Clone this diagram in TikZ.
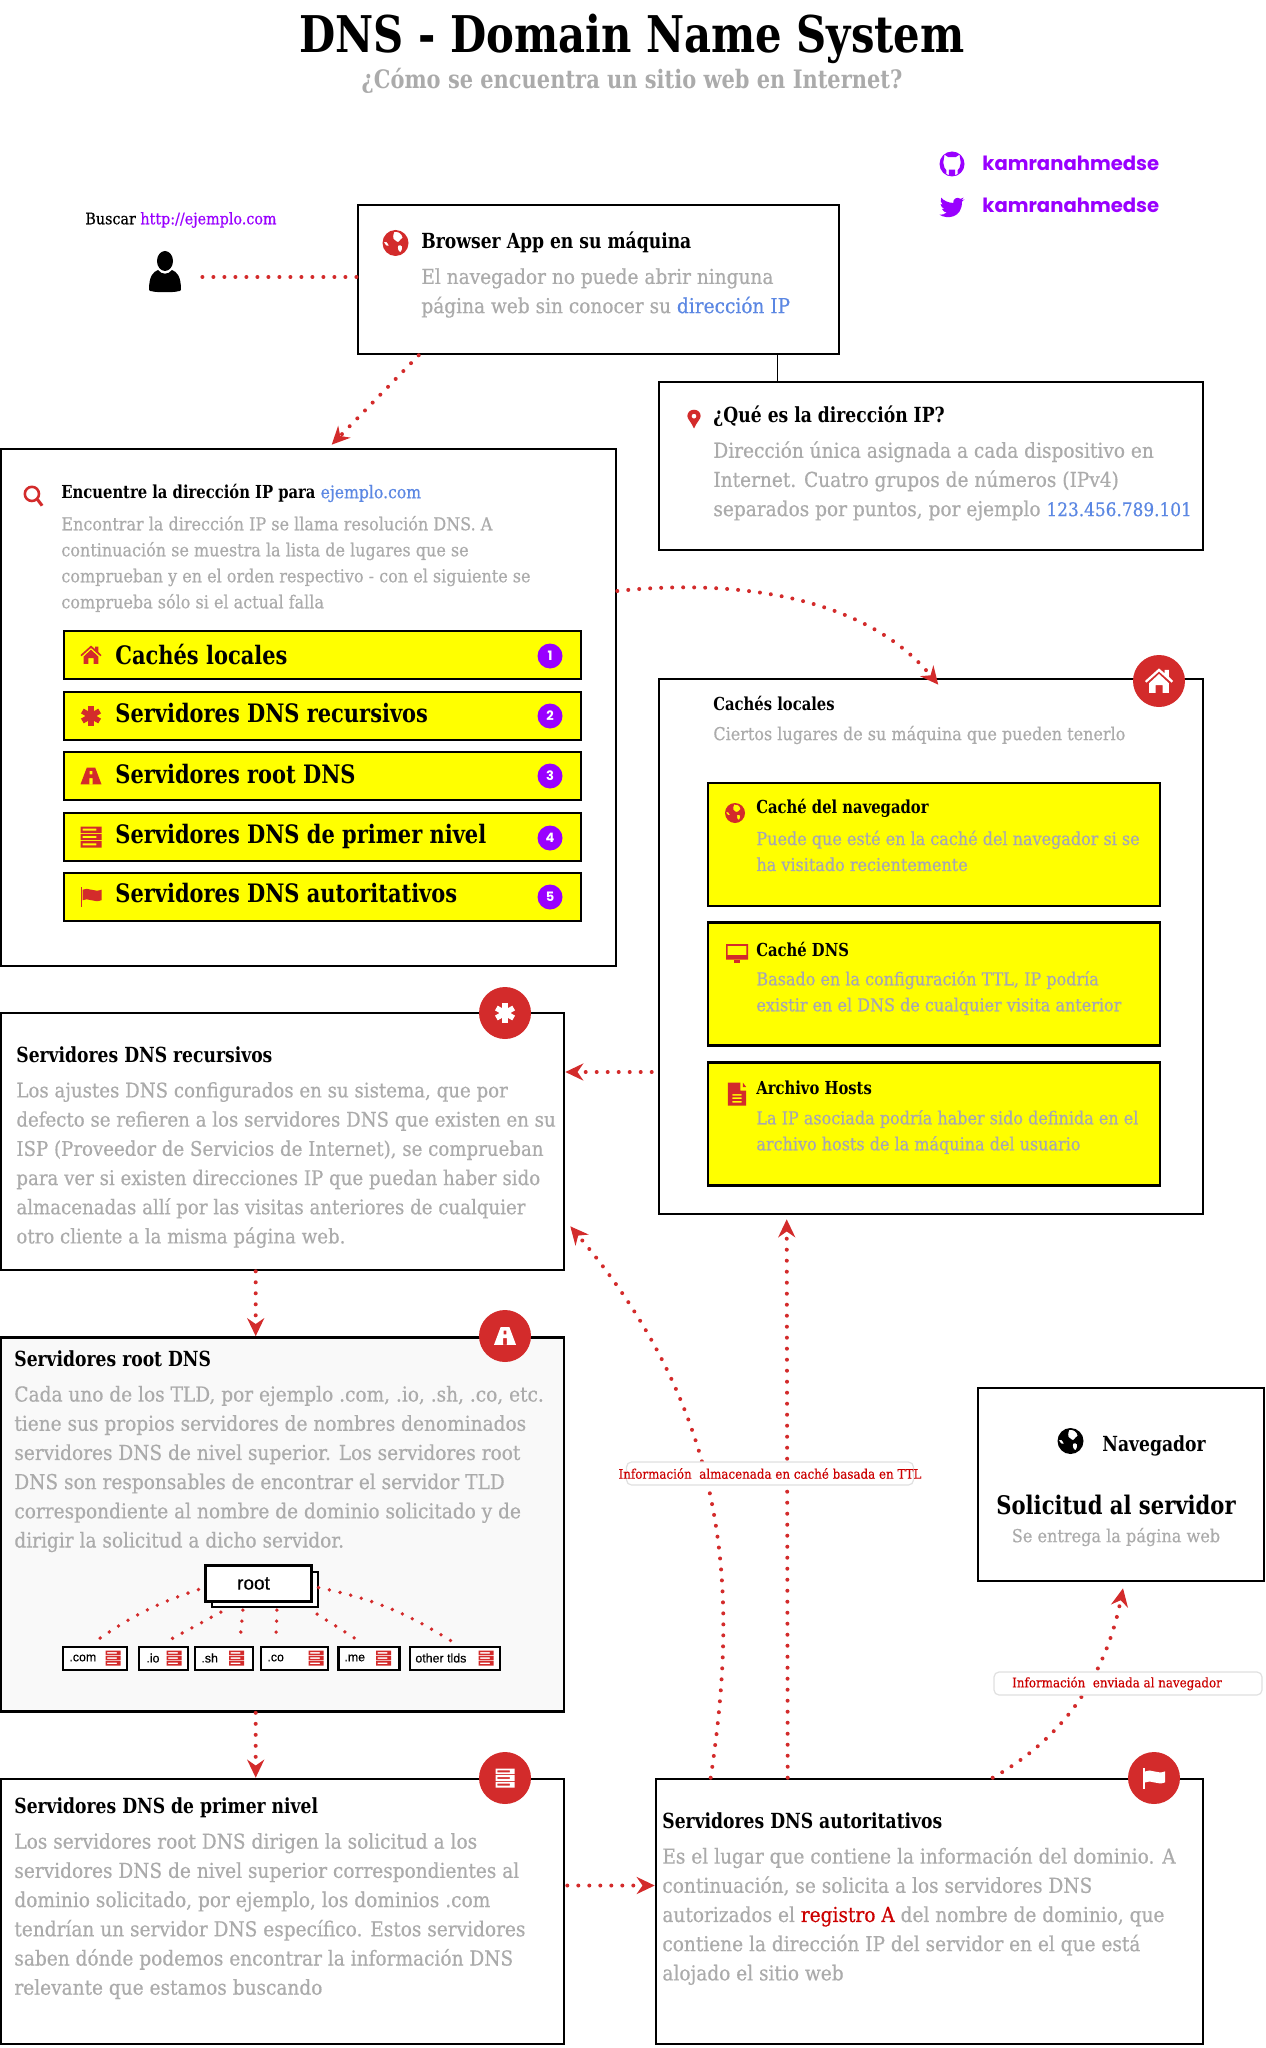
\documentclass[tikz,border=0pt]{standalone}
\usepackage{fontspec}
\usepackage{tikz}
\usetikzlibrary{arrows.meta}
\setmainfont{DejaVu Serif}[FakeStretch=0.9,FakeBold=0.45]
\newfontfamily\headfontbase{DejaVu Serif}[BoldFeatures={FakeStretch=0.825}]
\newcommand{\headfont}{\headfontbase\bfseries}
\newfontfamily\sansfont{Poppins}
\newfontfamily\sketchfont{Liberation Sans}[FakeBold=0.4]
\definecolor{iconred}{HTML}{D32B2B}
\definecolor{bodygray}{HTML}{ABABAB}
\definecolor{yellowgray}{HTML}{A6A6B4}
\definecolor{linkblue}{HTML}{5B87E3}
\definecolor{brandpurple}{HTML}{9900FF}
\definecolor{markyellow}{HTML}{FFFF00}
\definecolor{softpanel}{HTML}{F9F9F9}
\newcommand{\fs}[2]{\fontsize{#1}{#2}\selectfont}
\tikzset{
  pics/iconhome/.style={code={
    \fill (-10,0)--(0,-9)--(4,-5.5)--(4,-8)--(7,-8)--(7,-3)--(10,0)--(9,1.2)--(0,-6.8)--(-9,1.2)--cycle;
    \fill (-7,1.5)--(0,-5)--(7,1.5)--(7,8.5)--(2.5,8.5)--(2.5,3)--(-2.5,3)--(-2.5,8.5)--(-7,8.5)--cycle;}},
  pics/iconstar/.style={code={
    \fill[rotate=90] (-9.5,-2.6) rectangle (9.5,2.6);
    \fill[rotate=30] (-9.5,-2.6) rectangle (9.5,2.6);
    \fill[rotate=150] (-9.5,-2.6) rectangle (9.5,2.6);}},
  pics/iconroad/.style={code={
    \fill[even odd rule] (-4,-8)--(4,-8)--(10,8)--(-10,8)--cycle (-1.3,-5) rectangle (1.3,-1.5) (-1.6,2) rectangle (1.6,8);}},
  pics/iconservers/.style={code={
    \fill[even odd rule] (-10,-10) rectangle (10,-4) (-8,-8) rectangle (5,-6);
    \fill[even odd rule] (-10,-3) rectangle (10,3) (-8,-1) rectangle (5,1);
    \fill[even odd rule] (-10,4) rectangle (10,10) (-8,6) rectangle (5,8);}},
  pics/iconflag/.style={code={
    \fill (-10,-9) rectangle (-8.6,10);
    \fill (-8,-6) .. controls (-3,-9) and (3,-3) .. (10,-6) -- (10,4) .. controls (3,7) and (-3,1) .. (-8,4) -- cycle;}},
  pics/iconglobe/.style={code={
    \fill[even odd rule] (0,0) circle (10) (-1,-8.5) .. controls (2,-9) and (5,-7.5) .. (5.5,-4) .. controls (3,-2.5) and (3,0) .. (1,-1) .. controls (-1,-2) and (-3,-3) .. (-1,-8.5) -- cycle (2,2) .. controls (5,1) and (6.5,3) .. (4,7) .. controls (2.5,7) and (1,4) .. (2,2) -- cycle (-9,-1) .. controls (-7,-2) and (-6,0) .. (-5,2) .. controls (-6,3) and (-8,2) .. (-9,-1) -- cycle;}},
  pics/iconmonitor/.style={code={
    \fill[even odd rule] (-10,-8) rectangle (10,6) (-8.5,-6.5) rectangle (8.5,2);
    \fill (-3,6) rectangle (3,9);}},
  pics/iconfile/.style={code={
    \fill[even odd rule] (-8,-10)--(3,-10)--(3,-3)--(8,-3)--(8,10)--(-8,10)--cycle (-4,0) rectangle (4,1.5) (-4,3) rectangle (4,4.5) (-4,6) rectangle (4,7.5);
    \fill (5,-10)--(8,-6)--(5,-6)--cycle;}},
  pics/iconsearch/.style={code={
    \fill[even odd rule] (-2,-2) circle (8) (-2,-2) circle (5.5);
    \fill (2,4)--(4.5,2.5)--(9,8.5)--(6.5,10)--cycle;}},
  pics/iconpin/.style={code={
    \fill[even odd rule] (0,10) .. controls (-3,3) and (-7,0) .. (-7,-3) .. controls (-7,-12) and (7,-12) .. (7,-3) .. controls (7,0) and (3,3) .. (0,10) -- cycle (0,-3) circle (2.6);}},
  pics/iconperson/.style={code={
    \fill (0,-11) ellipse (8 and 10);
    \fill (-16,18) .. controls (-16,4) and (-12,0) .. (-7,-2) .. controls (-3,3) and (3,3) .. (7,-2) .. controls (12,0) and (16,4) .. (16,18) .. controls (16,21) and (-16,21) .. (-16,18) -- cycle;}},
  pics/icongithub/.style={code={
    \fill[even odd rule] (0,0) circle (10) (-6,-7.5)--(-3,-5.5)--(3,-5.5)--(6,-7.5)--(7,-1)--(6,3)--(4.5,5)--(4.5,8)--(2.5,9)--(2.5,4.5)--(-2.5,4.5)--(-2.5,9)--(-4.5,8)--(-4.5,5)--(-6,3)--(-7,-1)--cycle;}},
  pics/icontwitter/.style={code={
    \fill (10,-6.1) .. controls (9,-5.6) and (8.3,-5.4) .. (7.6,-5.3) .. controls (8.4,-5.8) and (9,-6.6) .. (9.3,-7.5) .. controls (8.5,-7) and (7.7,-6.7) .. (6.7,-6.5) .. controls (4.6,-8.6) and (0.4,-6.6) .. (1,-3.2) .. controls (-3,-3.4) and (-6.5,-5) .. (-8.6,-7.4) .. controls (-9.6,-5.5) and (-9,-3.2) .. (-7.4,-1.9) -- (-9.2,-2.4) .. controls (-9,-0.4) and (-7.8,0.8) .. (-6,1.5) -- (-8,1.6) .. controls (-7.2,3.4) and (-5.6,4.4) .. (-4.2,4.4) .. controls (-5.8,5.8) and (-8,6.4) .. (-10,6.2) .. controls (-4,10) and (8.2,9) .. (8,-4.4) .. controls (8.8,-5) and (9.5,-5.5) .. (10,-6.1) -- cycle;}}
}
\begin{document}
\begin{tikzpicture}[x=0.5pt,y=-0.5pt]
    \tikzstyle{every node} = [inner sep=0pt]
    \tikzstyle{panel} = [draw, line width=1.3pt, rectangle, fill=white]
    \tikzstyle{bar} = [draw, line width=1.2pt, rectangle, fill=markyellow, minimum width=258.5pt, minimum height=24pt]
    \tikzstyle{cachebox} = [draw, line width=1.2pt, rectangle, fill=markyellow, minimum width=226pt, minimum height=61.5pt]
    \tikzstyle{badge} = [circle, fill=brandpurple, text=white, minimum size=12.5pt, font=\sansfont\bfseries\fs{6.5}{7}]
    \tikzstyle{disc} = [circle, fill=iconred, minimum size=26pt]
    \tikzstyle{head} = [anchor=west, font=\headfont\fs{10.4}{12}]
    \tikzstyle{smallhead} = [anchor=west, font=\headfont\fs{8.95}{11}]
    \tikzstyle{bigbody} = [anchor=west, align=left, text=bodygray, font=\fs{10.3}{14.6}]
    \tikzstyle{smallbody} = [anchor=west, align=left, text=bodygray, font=\fs{8.9}{13}]
    \tikzstyle{yellowbody} = [smallbody, text=yellowgray]
    \tikzstyle{bartext} = [anchor=west, font=\headfont\fs{12.7}{14}]
    \tikzstyle{social} = [anchor=west, text=brandpurple, font=\sansfont\bfseries\fs{9.8}{12}]
    \tikzstyle{flowlabel} = [rectangle, rounded corners=2.5pt, draw=black!12, line width=.6pt, fill=white, text=red!80!black, font=\fs{6.6}{8}]
    \tikzstyle{tldbox} = [draw, line width=1.1pt, rectangle, fill=white, minimum height=11.5pt]
    \tikzstyle{tldtext} = [anchor=west, font=\sketchfont\fs{6.2}{7}]
    \tikzstyle{flow} = [draw=iconred, line width=2pt, line cap=round, dash pattern=on 0pt off 5.5pt, -{Stealth[length=9pt,width=8.5pt]}]
    \tikzstyle{flowplain} = [draw=iconred, line width=2pt, line cap=round, dash pattern=on 0pt off 5.5pt]
    \tikzstyle{tlddots} = [draw=iconred, line width=1.9pt, line cap=round, dash pattern=on 0pt off 5.5pt]
    \useasboundingbox (0,0) rectangle (1265,2048);
    % title
    \node (title) at (632,39) {\headfont\fs{25.3}{30}DNS - Domain Name System};
    \node[text=bodygray] (subtitle) at (632,81) {\headfont\fs{12.7}{14}¿Cómo se encuentra un sitio web en Internet?};
    \pic[color=brandpurple,scale=1.25] at (952,164) {icongithub};
    \node[social] (githubName) at (982,163) {kamranahmedse};
    \pic[color=brandpurple,scale=1.25] at (952,207) {icontwitter};
    \node[social] (twitterName) at (982,205) {kamranahmedse};
    % user
    \node[anchor=west,font=\fs{7.95}{9}] (search) at (85,220) {Buscar \textcolor{brandpurple}{http://ejemplo.com}};
    \node[minimum width=37pt,minimum height=20pt] (user) at (165,277) {};
    \pic[color=black] at (165,272) {iconperson};
    % browser and address
    \node[panel,minimum width=240.5pt,minimum height=74.5pt] (browser) at (598.5,279.5) {};
    \pic[color=iconred,scale=1.3] at (395.5,243) {iconglobe};
    \node[head] (browserHead) at (421,242.5) {Browser App en su máquina};
    \node[bigbody] (browserBody) at (421,293) {El navegador no puede abrir ninguna\\página web sin conocer su \textcolor{linkblue}{dirección IP}};
    \node[panel,minimum width=272pt,minimum height=84pt] (address) at (931,466) {};
    \pic[color=iconred,scale=.95] at (694,419) {iconpin};
    \node[head] (addressHead) at (713,416) {¿Qué es la dirección IP?};
    \node[bigbody] (addressBody) at (713,481) {Dirección única asignada a cada dispositivo en\\Internet. Cuatro grupos de números (IPv4)\\separados por puntos, por ejemplo \textcolor{linkblue}{\fs{9.4}{14.6}123.456.789.101}};
    % find the address
    \node[panel,minimum width=307.5pt,minimum height=258.5pt] (find) at (308.5,707.5) {};
    \pic[color=iconred,scale=1.05] at (34,496) {iconsearch};
    \node[smallhead] (findHead) at (61,493) {Encuentre la dirección IP para \textcolor{linkblue}{\normalfont\fs{8.7}{11}ejemplo.com}};
    \node[smallbody] (findBody) at (61,564) {Encontrar la dirección IP se llama resolución DNS. A\\continuación se muestra la lista de lugares que se\\comprueban y en el orden respectivo - con el siguiente se\\comprueba sólo si el actual falla};
    \node[bar] (barCache) at (322.5,655) {};
    \pic[color=iconred,scale=1.05] at (91,655) {iconhome};
    \node[bartext] (barCacheText) at (115,655) {Cachés locales};
    \node[badge] (badgeOne) at (550,656) {1};
    \node[bar] (barRecursive) at (322.5,716) {};
    \pic[color=iconred,scale=1.05] at (91,716) {iconstar};
    \node[bartext] (barRecursiveText) at (115,713) {Servidores DNS recursivos};
    \node[badge] (badgeTwo) at (550,716) {2};
    \node[bar] (barRoot) at (322.5,776) {};
    \pic[color=iconred,scale=1.05] at (91,776) {iconroad};
    \node[bartext] (barRootText) at (115,774) {Servidores root DNS};
    \node[badge] (badgeThree) at (550,776) {3};
    \node[bar] (barTop) at (322.5,837) {};
    \pic[color=iconred,scale=1.05] at (91,837) {iconservers};
    \node[bartext] (barTopText) at (115,836) {Servidores DNS de primer nivel};
    \node[badge] (badgeFour) at (550,838) {4};
    \node[bar] (barAuth) at (322.5,897) {};
    \pic[color=iconred,scale=1.05] at (91,896) {iconflag};
    \node[bartext] (barAuthText) at (115,893) {Servidores DNS autoritativos};
    \node[badge] (badgeFive) at (550,897) {5};
    % local caches
    \node[panel,minimum width=272pt,minimum height=267.5pt] (caches) at (931,946.5) {};
    \node[disc] (cachesDisc) at (1159,681) {};
    \pic[color=white,scale=1.4] at (1159,681) {iconhome};
    \node[smallhead] (cachesHead) at (713,703) {Cachés locales};
    \node[smallbody] (cachesBody) at (713,735) {Ciertos lugares de su máquina que pueden tenerlo};
    \node[cachebox] (browserCache) at (934,844.5) {};
    \pic[color=iconred] at (735,813) {iconglobe};
    \node[smallhead] (browserCacheHead) at (756,808) {Caché del navegador};
    \node[yellowbody] (browserCacheBody) at (756,851) {Puede que esté en la caché del navegador si se\\ha visitado recientemente};
    \node[cachebox] (dnsCache) at (934,984) {};
    \pic[color=iconred,scale=1.1] at (737,953) {iconmonitor};
    \node[smallhead] (dnsCacheHead) at (756,949) {Caché DNS};
    \node[yellowbody] (dnsCacheBody) at (756,993) {Basado en la configuración TTL, IP podría\\existir en el DNS de cualquier visita anterior};
    \node[cachebox] (hostsFile) at (934,1124) {};
    \pic[color=iconred,scale=1.15] at (737,1094) {iconfile};
    \node[smallhead] (hostsFileHead) at (756,1087.5) {Archivo Hosts};
    \node[yellowbody] (hostsFileBody) at (756,1132) {La IP asociada podría haber sido definida en el\\archivo hosts de la máquina del usuario};
    % recursive servers
    \node[panel,minimum width=281.5pt,minimum height=128.5pt] (recursive) at (282.5,1141.5) {};
    \node[disc] (recursiveDisc) at (505,1013) {};
    \pic[color=white,scale=1.05] at (505,1013) {iconstar};
    \node[head] (recursiveHead) at (16,1055) {Servidores DNS recursivos};
    \node[bigbody,font=\fs{10.1}{14.6}] (recursiveBody) at (16,1165) {Los ajustes DNS configurados en su sistema, que por\\defecto se refieren a los servidores DNS que existen en su\\ISP (Proveedor de Servicios de Internet), se comprueban\\para ver si existen direcciones IP que puedan haber sido\\almacenadas allí por las visitas anteriores de cualquier\\otro cliente a la misma página web.};
    % root servers
    \node[panel,fill=softpanel,minimum width=281.5pt,minimum height=187pt] (root) at (282.5,1524.5) {};
    \node[disc] (rootDisc) at (505,1336) {};
    \pic[color=white,scale=1.1] at (505,1336) {iconroad};
    \node[head] (rootHead) at (14,1359) {Servidores root DNS};
    \node[bigbody] (rootBody) at (14,1469) {Cada uno de los TLD, por ejemplo .com, .io, .sh, .co, etc.\\tiene sus propios servidores de nombres denominados\\servidores DNS de nivel superior. Los servidores root\\DNS son responsables de encontrar el servidor TLD\\correspondiente al nombre de dominio solicitado y de\\dirigir la solicitud a dicho servidor.};
    % root tree
    \node[tldbox,minimum width=53pt,minimum height=17.5pt] (rootBack) at (265,1589.5) {};
    \node[tldbox,minimum width=53pt,minimum height=18pt] (rootFront) at (258.5,1583.5) {\sketchfont\fs{9.5}{11}\hspace*{-5pt}root};
    \node[tldbox,minimum width=32pt] (tldCom) at (95,1658.5) {};
    \node[tldtext] (tldComText) at (69,1658) {.com};
    \pic[color=iconred,scale=.75] at (113,1658) {iconservers};
    \node[tldbox,minimum width=24.5pt] (tldIo) at (163.5,1658.5) {};
    \node[tldtext] (tldIoText) at (146,1658) {.io};
    \pic[color=iconred,scale=.75] at (174,1658) {iconservers};
    \node[tldbox,minimum width=29pt] (tldSh) at (224,1658.5) {};
    \node[tldtext] (tldShText) at (201,1658) {.sh};
    \pic[color=iconred,scale=.75] at (236.5,1658) {iconservers};
    \node[tldbox,minimum width=33.5pt] (tldCo) at (294.5,1658.5) {};
    \node[tldtext] (tldCoText) at (267,1658) {.co};
    \pic[color=iconred,scale=.75] at (316,1658) {iconservers};
    \node[tldbox,minimum width=30.5pt] (tldMe) at (369,1658.5) {};
    \node[tldtext] (tldMeText) at (344,1658) {.me};
    \pic[color=iconred,scale=.75] at (383.5,1658) {iconservers};
    \node[tldbox,minimum width=45pt] (tldOther) at (455,1658.5) {};
    \node[tldtext] (tldOtherText) at (415,1658) {other tlds};
    \pic[color=iconred,scale=.75] at (486,1658) {iconservers};
    \draw[tlddots] ([xshift=-3pt,yshift=-3pt]rootFront.west) to[bend right=8] ([xshift=17pt,yshift=2.5pt]tldCom.north west);
    \draw[tlddots] ([xshift=5pt,yshift=-2pt]rootBack.south west) -- ([xshift=14pt,yshift=2pt]tldIo.north west);
    \draw[tlddots] ([xshift=16pt,yshift=-1pt]rootBack.south west) -- ([xshift=23pt,yshift=2pt]tldSh.north west);
    \draw[tlddots] ([xshift=33pt,yshift=-1pt]rootBack.south west) -- ([xshift=8pt,yshift=2.5pt]tldCo.north west);
    \draw[tlddots] ([xshift=-1pt,yshift=-3pt]rootBack.south east) -- ([xshift=10pt,yshift=3pt]tldMe.north west);
    \draw[tlddots] ([xshift=3pt,yshift=-2pt]rootFront.east) to[bend left=10] ([xshift=-25pt,yshift=2.5pt]tldOther.north east);
    % top level servers
    \node[panel,minimum width=281.5pt,minimum height=132.5pt] (toplevel) at (282.5,1911.5) {};
    \node[disc] (toplevelDisc) at (505,1778) {};
    \pic[color=white,scale=.95] at (505,1778) {iconservers};
    \node[head] (toplevelHead) at (14,1807.5) {Servidores DNS de primer nivel};
    \node[bigbody] (toplevelBody) at (14,1916) {Los servidores root DNS dirigen la solicitud a los\\servidores DNS de nivel superior correspondientes al\\dominio solicitado, por ejemplo, los dominios .com\\tendrían un servidor DNS específico. Estos servidores\\saben dónde podemos encontrar la información DNS\\relevante que estamos buscando};
    % authoritative servers
    \node[panel,minimum width=273.5pt,minimum height=132.5pt] (authoritative) at (929.5,1911.5) {};
    \node[disc] (authoritativeDisc) at (1154,1778) {};
    \pic[color=white,scale=1.1] at (1154,1778) {iconflag};
    \node[head] (authoritativeHead) at (662,1821) {Servidores DNS autoritativos};
    \node[bigbody] (authoritativeBody) at (662,1916) {Es el lugar que contiene la información del dominio. A\\continuación, se solicita a los servidores DNS\\autorizados el \textcolor{red!80!black}{registro A} del nombre de dominio, que\\contiene la dirección IP del servidor en el que está\\alojado el sitio web};
    % browser result
    \node[panel,minimum width=143pt,minimum height=96.5pt] (result) at (1121,1484.5) {};
    \pic[color=black,scale=1.3] at (1070.5,1441) {iconglobe};
    \node[head] (resultName) at (1102,1446) {Navegador};
    \node[font=\headfont\fs{12.8}{14}] (resultHead) at (1116,1505) {Solicitud al servidor};
    \node[text=bodygray,font=\fs{8.95}{11}] (resultBody) at (1116,1537) {Se entrega la página web};
    % Connections
    \draw[flowplain] (user.east) -- (user.east -| browser.west);
    \draw[black,line width=.7pt] ([xshift=210.5pt]browser.south west) -- ([xshift=60pt]address.north west);
    \draw[flow] ([xshift=31pt]browser.south west) -- ([xshift=166pt,yshift=1.5pt]find.north west);
    \draw[flow] (find.east |- 0,591) .. controls (720,580) and (860,590) .. ([xshift=-133pt,yshift=-3.5pt]caches.north east);
    \draw[flow] ([xshift=-3pt,yshift=-62.75pt]caches.west) -- ([yshift=-62.75pt]caches.west -| recursive.east);
    \draw[flow] ([xshift=128pt]recursive.south west) -- ([xshift=128pt]root.north west);
    \draw[flow] ([xshift=128pt]root.south west) -- ([xshift=128pt]toplevel.north west);
    \draw[flow] ([yshift=13pt,xshift=1pt]toplevel.east) -- ([yshift=13pt]authoritative.west);
    \draw[flow] ([xshift=28pt]authoritative.north west) .. controls (737,1600) and (735,1420) .. ([xshift=2.5pt,yshift=22.5pt]recursive.south east);
    \draw[flow] ([xshift=66.5pt]authoritative.north west) -- ([xshift=64.5pt,yshift=-2pt]caches.south west);
    \draw[flow] ([xshift=169pt]authoritative.north west) .. controls (1060,1740) and (1105,1680) .. ([xshift=1pt,yshift=-3pt]result.south);
    % labels
    \node[flowlabel,minimum width=143.5pt,minimum height=11.5pt] (ttlLabel) at (770,1473.5) {\makebox[143.5pt]{Información\ \ almacenada en caché basada en TTL}};
    \node[flowlabel,minimum width=134pt,minimum height=11.5pt] (sentLabel) at (1128,1683.5) {\makebox[134pt]{\hspace{-11pt}Información\ \ enviada al navegador}};
\end{tikzpicture}
\end{document}
